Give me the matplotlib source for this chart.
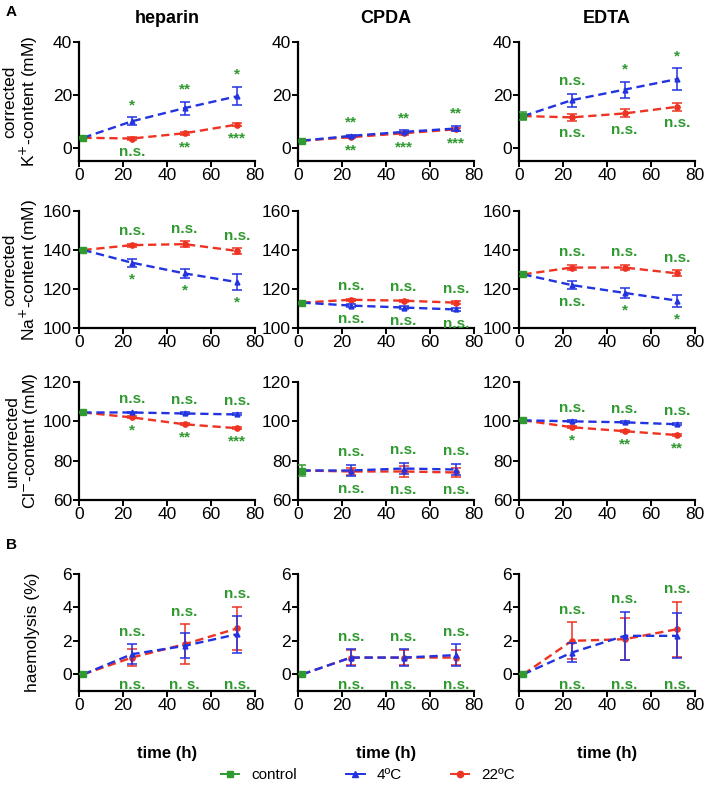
import matplotlib
matplotlib.use("Agg")
import matplotlib.pyplot as plt
from matplotlib.lines import Line2D

plt.rcParams['font.family'] = ['Liberation Sans', 'DejaVu Sans']

# ---------------- data ----------------
times = [24, 48, 72]
control_time = 2
anticoagulants = ["heparin", "CPDA", "EDTA"]

# K+ (corrected)
K_control = [3.8, 2.7, 12.0]
K_control_err = [0.4, 0.4, 1.5]
K_4C = [[10.0, 15.0, 19.5], [4.5, 6.0, 7.3], [18.0, 22.0, 26.0]]
K_4C_err = [[1.5, 2.5, 3.5], [0.5, 0.6, 0.9], [2.5, 3.0, 4.0]]
K_22C = [[3.5, 5.5, 8.8], [4.0, 5.5, 7.0], [11.5, 13.0, 15.5]]
K_22C_err = [[0.4, 0.5, 0.6], [0.4, 0.5, 0.6], [1.2, 1.5, 1.5]]
K_upper = [["*", "**", "*"], ["**", "**", "**"], ["n.s.", "*", "*"]]
K_lower = [["n.s.", "**", "***"], ["**", "***", "***"], ["n.s.", "n.s.", "n.s."]]

# Na+ (corrected)
Na_control = [140.0, 113.0, 127.5]
Na_control_err = [0.5, 0.5, 1.0]
Na_4C = [[133.5, 128.0, 123.5], [111.5, 110.5, 109.5], [122.0, 118.0, 114.0]]
Na_4C_err = [[2.0, 2.5, 4.0], [0.6, 0.6, 1.0], [2.0, 2.5, 3.0]]
Na_22C = [[142.5, 143.0, 139.5], [114.5, 114.0, 113.0], [131.0, 131.0, 128.0]]
Na_22C_err = [[0.8, 1.5, 1.5], [0.6, 0.6, 0.8], [1.5, 1.5, 1.5]]
Na_upper = [["n.s.", "n.s.", "n.s."], ["n.s.", "n.s.", "n.s."], ["n.s.", "n.s.", "n.s."]]
Na_lower = [["*", "*", "*"], ["n.s.", "n.s.", "n.s."], ["n.s.", "*", "*"]]

# Cl- (uncorrected)
Cl_control = [104.5, 75.0, 100.5]
Cl_control_err = [0.5, 3.0, 0.5]
Cl_4C = [[104.5, 104.0, 103.5], [75.0, 76.0, 75.5], [100.0, 99.5, 98.5]]
Cl_4C_err = [[0.5, 0.5, 0.5], [3.0, 3.0, 3.0], [0.5, 0.5, 0.5]]
Cl_22C = [[102.0, 98.5, 96.5], [74.5, 74.5, 74.0], [97.0, 95.0, 93.0]]
Cl_22C_err = [[0.5, 0.5, 0.5], [2.0, 3.0, 2.5], [0.5, 0.5, 0.5]]
Cl_upper = [["n.s.", "n.s.", "n.s."], ["n.s.", "n.s.", "n.s."], ["n.s.", "n.s.", "n.s."]]
Cl_lower = [["*", "**", "***"], ["n.s.", "n.s.", "n.s."], ["*", "**", "**"]]

# haemolysis (%)
H_control = [0.0, 0.0, 0.0]
H_control_err = [0.0, 0.0, 0.0]
H_4C = [[1.2, 1.7, 2.4], [1.0, 1.0, 1.15], [1.3, 2.3, 2.3]]
H_4C_err = [[0.6, 0.75, 1.1], [0.5, 0.5, 0.65], [0.55, 1.45, 1.35]]
H_22C = [[1.0, 1.8, 2.75], [1.0, 1.0, 1.0], [2.0, 2.1, 2.7]]
H_22C_err = [[0.5, 1.2, 1.3], [0.45, 0.45, 0.45], [1.1, 1.25, 1.65]]
H_upper = [["n.s.", "n.s.", "n.s."], ["n.s.", "n.s.", "n.s."], ["n.s.", "n.s.", "n.s."]]
H_lower = [["n.s.", "n. s.", "n.s."], ["n.s.", "n.s.", "n.s."], ["n.s.", "n.s.", "n.s."]]

row_labels = ["corrected\nK$^{+}$-content (mM)",
              "corrected\nNa$^{+}$-content (mM)",
              "uncorrected\nCl$^{-}$-content (mM)",
              "haemolysis (%)"]
row_ylims = [(-5, 40), (100, 160), (60, 120), (-1, 6)]
row_yticks = [[0, 20, 40], [100, 120, 140, 160], [60, 80, 100, 120], [0, 2, 4, 6]]
xticks = [0, 20, 40, 60, 80]

rows = [
    (K_control, K_control_err, K_4C, K_4C_err, K_22C, K_22C_err, K_upper, K_lower),
    (Na_control, Na_control_err, Na_4C, Na_4C_err, Na_22C, Na_22C_err, Na_upper, Na_lower),
    (Cl_control, Cl_control_err, Cl_4C, Cl_4C_err, Cl_22C, Cl_22C_err, Cl_upper, Cl_lower),
    (H_control, H_control_err, H_4C, H_4C_err, H_22C, H_22C_err, H_upper, H_lower),
]

# ---------------- style ----------------
GREEN = '#2f9a2f'
BLUE = '#2233e0'
RED = '#ee3322'
W, H = 708, 796
col_left = [79, 298, 519]
col_w = 176
row_top = [42, 211, 382, 574]
row_bot = [161, 328, 500, 691]
ANN_FS = 11

fig = plt.figure(figsize=(W / 100, H / 100), dpi=100)

for r, (ctrl, ctrl_err, v4, e4, v22, e22, up, lo) in enumerate(rows):
    for c in range(3):
        ax = fig.add_axes([col_left[c] / W, 1 - row_bot[r] / H,
                           col_w / W, (row_bot[r] - row_top[r]) / H])
        xs = [control_time] + times
        y22 = [ctrl[c]] + v22[c]
        y4 = [ctrl[c]] + v4[c]
        ax.plot(xs, y22, color=RED, ls=(0, (3.5, 2)), lw=1.7, zorder=2)
        ax.errorbar(times, v22[c], yerr=e22[c], fmt='o', color=RED, ms=3.8,
                    capsize=3.5, elinewidth=1.1, capthick=1.1, zorder=3)
        ax.plot(xs, y4, color=BLUE, ls=(0, (3.5, 2)), lw=1.7, zorder=4)
        ax.errorbar(times, v4[c], yerr=e4[c], fmt='^', color=BLUE, ms=3.5,
                    capsize=3.5, elinewidth=1.1, capthick=1.1, zorder=5)
        ax.errorbar([control_time], [ctrl[c]], yerr=[ctrl_err[c]], fmt='s',
                    color=GREEN, ms=4.2, capsize=3, elinewidth=1.1,
                    capthick=1.1, zorder=6)

        # significance labels
        for i, t in enumerate(times):
            top = max(v4[c][i] + e4[c][i], v22[c][i] + e22[c][i])
            bot = min(v4[c][i] - e4[c][i], v22[c][i] - e22[c][i])
            ax.annotate(up[c][i], (t, top), xytext=(0, 6),
                        textcoords='offset points', ha='center', va='baseline',
                        color=GREEN, fontsize=ANN_FS, fontweight='bold')
            if r == 3:
                ax.annotate(lo[c][i], (t, -0.25), xytext=(0, 0),
                            textcoords='offset points', ha='center', va='top',
                            color=GREEN, fontsize=ANN_FS, fontweight='bold')
            else:
                ax.annotate(lo[c][i], (t, bot), xytext=(0, -4),
                            textcoords='offset points', ha='center', va='top',
                            color=GREEN, fontsize=ANN_FS, fontweight='bold')

        ax.set_xlim(0, 80)
        ax.set_ylim(*row_ylims[r])
        ax.set_xticks(xticks)
        ax.set_yticks(row_yticks[r])
        for s in ['top', 'right']:
            ax.spines[s].set_visible(False)
        for s in ['left', 'bottom']:
            ax.spines[s].set_linewidth(1.6)
        ax.tick_params(width=1.4, length=4, labelsize=12.5, pad=1)
        if c == 0:
            ax.set_ylabel(row_labels[r], fontsize=12.5, linespacing=1.05)
            ax.yaxis.set_label_coords((40 - col_left[0]) / col_w, 0.5)
        if r == 0:
            ax.set_title(anticoagulants[c], fontsize=13, fontweight='bold',
                         pad=14)
        if r == 3:
            ax.set_xlabel("time (h)", fontsize=12, fontweight='bold',
                          labelpad=24)

fig.text(6 / W, 1 - 12 / H, "A", fontsize=11, fontweight='bold',
         ha='left', va='center')
fig.text(6 / W, 1 - 545 / H, "B", fontsize=11, fontweight='bold',
         ha='left', va='center')

handles = [
    Line2D([], [], color=GREEN, marker='s', ms=4.5, lw=1.4),
    Line2D([], [], color=BLUE, marker='^', ms=4.5, lw=1.4),
    Line2D([], [], color=RED, marker='o', ms=4.5, lw=1.4),
]
fig.legend(handles, ["control", "4ºC", "22ºC"], loc='center',
           bbox_to_anchor=(0.52, 1 - 775 / H), ncol=3, frameon=False,
           fontsize=11, handlelength=1.2, columnspacing=3.2,
           handletextpad=0.8)

fig.savefig("out.png", dpi=100)
